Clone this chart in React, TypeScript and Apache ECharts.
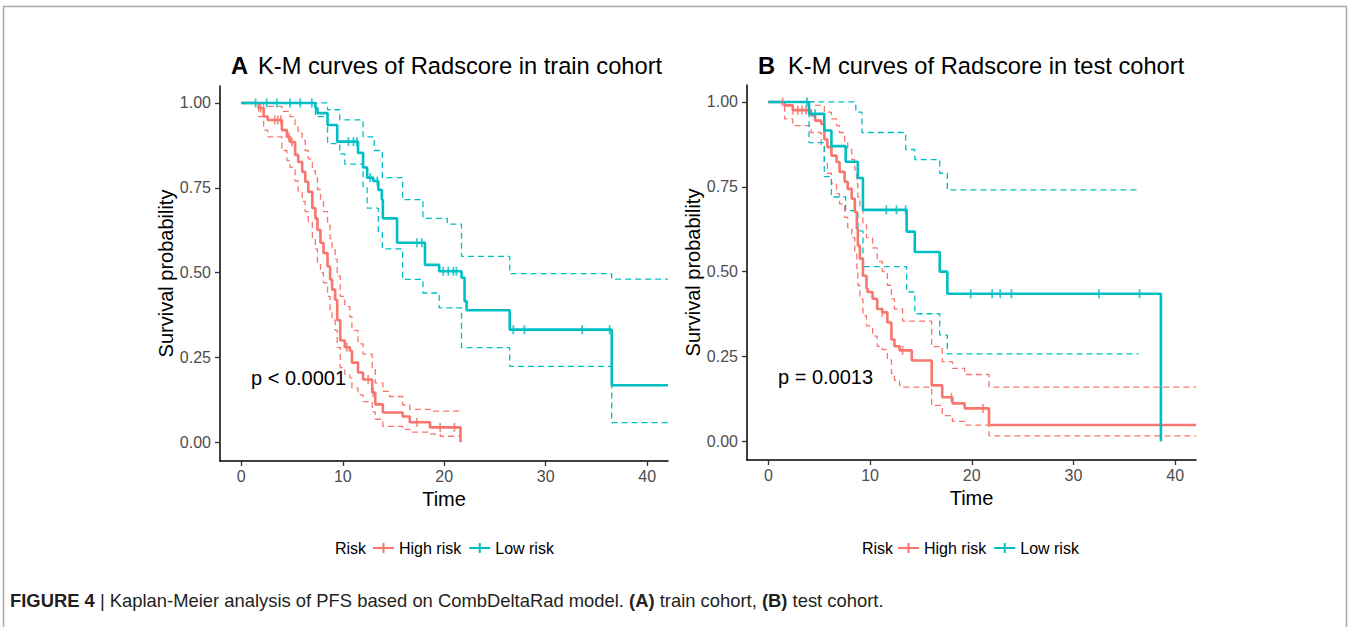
import React, { useEffect, useRef } from "react";
import * as echarts from "echarts";

const RED = "#F8766D";
const TEAL = "#00BFC4";
const FONT = '"Liberation Sans", Arial, Helvetica, sans-serif';

const xTicks = [0, 10, 20, 30, 40];
const yTicks = [0, 0.25, 0.5, 0.75, 1];
const legendNames = ["High risk", "Low risk"];
const panelLetters = ["A", "B"];
const panelTitles = ["K-M curves of Radscore in train cohort", "K-M curves of Radscore in test cohort"];
const pLabels = ["p < 0.0001", "p = 0.0013"];

// ---- train cohort (panel A) ----
const trainHigh = [[0,1],[1.7,0.985],[2.2,0.96],[2.6,0.95],[4.0,0.92],[4.5,0.9],[4.8,0.885],[5.3,0.847],[5.6,0.826],[6.0,0.797],[6.3,0.768],[6.6,0.738],[7.0,0.69],[7.3,0.66],[7.5,0.626],[7.8,0.588],[8.1,0.558],[8.5,0.518],[8.75,0.48],[8.95,0.45],[9.25,0.42],[9.45,0.36],[9.75,0.3],[10.2,0.28],[10.7,0.27],[10.9,0.235],[11.5,0.206],[12.0,0.185],[12.9,0.147],[13.2,0.112],[13.95,0.088],[15.9,0.076],[16.6,0.059],[18.6,0.044],[21.6,0]];
const trainHighUpper = [[0,1],[2.2,0.99],[4.0,0.975],[4.8,0.96],[5.3,0.93],[5.6,0.91],[6.0,0.89],[6.3,0.86],[6.6,0.835],[7.0,0.8],[7.3,0.78],[7.5,0.745],[7.8,0.71],[8.1,0.68],[8.5,0.64],[8.75,0.6],[8.95,0.57],[9.25,0.54],[9.45,0.49],[9.75,0.43],[10.2,0.4],[10.7,0.37],[10.9,0.33],[11.5,0.29],[12.0,0.26],[12.9,0.22],[13.2,0.175],[13.95,0.15],[14.6,0.135],[15.9,0.11],[16.6,0.097],[18.6,0.092],[21.5,0.092]];
const trainHighLower = [[0,1],[1.7,0.96],[2.2,0.92],[2.6,0.9],[4.0,0.86],[4.5,0.83],[4.8,0.81],[5.3,0.77],[5.6,0.74],[6.0,0.71],[6.3,0.68],[6.6,0.65],[7.0,0.6],[7.3,0.57],[7.5,0.53],[7.8,0.5],[8.1,0.47],[8.5,0.43],[8.75,0.39],[8.95,0.36],[9.25,0.33],[9.45,0.28],[9.75,0.22],[10.2,0.2],[10.7,0.19],[10.9,0.16],[11.5,0.14],[12.0,0.12],[12.9,0.09],[13.2,0.068],[13.95,0.047],[15.9,0.038],[16.6,0.03],[18.6,0.024],[19.6,0.018],[21.5,0.018]];
const trainHighCensor = [1.9, 3.3, 3.6, 3.9, 4.7, 5.0, 10.4, 12.5, 13.0, 17.3, 19.6, 21.0];

const trainLow = [[0,1],[7.3,0.985],[7.5,0.97],[8.5,0.935],[9.45,0.886],[11.5,0.853],[12.0,0.81],[12.4,0.78],[13.0,0.77],[13.5,0.744],[13.85,0.715],[13.95,0.66],[15.35,0.588],[18.1,0.523],[19.5,0.504],[21.7,0.485],[22.0,0.416],[22.2,0.389],[26.45,0.332],[36.5,0.168],[42.05,0.168]];
const trainLowUpper = [[0,1],[8.5,0.98],[9.7,0.95],[12.0,0.9],[13.1,0.86],[13.9,0.78],[15.9,0.715],[17.9,0.66],[20.3,0.643],[21.7,0.548],[26.45,0.497],[36.5,0.481],[42.05,0.481]];
const trainLowLower = [[0,1],[7.3,0.96],[8.5,0.88],[9.7,0.85],[10.2,0.82],[12.0,0.75],[12.4,0.69],[13.5,0.62],[13.9,0.57],[15.9,0.48],[17.9,0.44],[19.5,0.396],[21.7,0.279],[26.45,0.224],[36.5,0.058],[42.05,0.058]];
const trainLowCensor = [1.4, 2.5, 3.5, 4.8, 5.8, 6.95, 10.55, 11.05, 11.4, 12.7, 13.4, 17.3, 17.8, 19.9, 20.4, 20.9, 21.2, 26.8, 27.9, 33.6, 36.3];

// ---- test cohort (panel B) ----
const testHigh = [[0,1],[1.6,0.99],[2.4,0.976],[4.2,0.96],[4.6,0.945],[5.2,0.935],[5.5,0.89],[5.8,0.867],[6.2,0.842],[6.7,0.823],[7.0,0.794],[7.5,0.765],[7.8,0.744],[8.2,0.715],[8.5,0.676],[8.7,0.626],[8.8,0.576],[9.0,0.538],[9.3,0.488],[9.65,0.45],[9.75,0.44],[10.25,0.42],[10.7,0.39],[11.2,0.38],[11.7,0.35],[12.1,0.3],[12.4,0.28],[12.9,0.268],[14.1,0.238],[16.06,0.165],[17.1,0.13],[18.1,0.112],[19.3,0.097],[21.7,0.048],[42.05,0.048]];
const testHighUpper = [[0,1],[4.6,0.99],[5.5,0.97],[6.2,0.95],[6.7,0.93],[7.0,0.91],[7.5,0.88],[7.8,0.86],[8.2,0.83],[8.5,0.8],[8.7,0.76],[8.8,0.72],[9.0,0.69],[9.3,0.64],[9.65,0.6],[10.25,0.57],[10.7,0.53],[11.2,0.5],[11.7,0.46],[12.1,0.42],[12.4,0.39],[13.2,0.354],[16.06,0.279],[17.1,0.235],[18.1,0.215],[19.3,0.197],[21.7,0.16],[42.05,0.16]];
const testHighLower = [[0,1],[1.6,0.95],[2.4,0.93],[4.2,0.91],[5.2,0.87],[5.5,0.82],[5.8,0.79],[6.2,0.76],[6.7,0.73],[7.0,0.7],[7.5,0.66],[7.8,0.63],[8.2,0.6],[8.5,0.56],[8.7,0.51],[8.8,0.46],[9.0,0.42],[9.3,0.37],[9.65,0.34],[10.25,0.31],[10.7,0.28],[11.2,0.27],[11.7,0.24],[12.1,0.2],[12.4,0.18],[12.9,0.165],[13.2,0.16],[16.06,0.106],[17.1,0.076],[18.1,0.059],[19.3,0.048],[21.7,0.016],[42.05,0.016]];
const testHighCensor = [1.4, 2.4, 2.9, 3.3, 3.7, 11.2, 13.2, 18.0, 21.1];

const testLow = [[0,1],[4.0,0.965],[5.5,0.916],[6.2,0.87],[7.6,0.824],[8.8,0.776],[9.3,0.682],[13.6,0.618],[14.4,0.558],[16.85,0.5],[17.6,0.435],[38.6,0]];
const testLowUpper = [[0,1],[8.6,0.97],[9.2,0.91],[13.5,0.86],[14.4,0.83],[16.85,0.79],[17.6,0.741],[36.4,0.741]];
const testLowLower = [[0,1],[4.0,0.88],[5.5,0.78],[6.2,0.72],[7.6,0.68],[8.8,0.62],[9.3,0.515],[13.6,0.44],[14.4,0.376],[16.85,0.313],[17.6,0.258],[36.4,0.258]];
const testLowCensor = [3.8, 4.6, 11.6, 12.6, 13.5, 19.9, 22.0, 22.8, 23.9, 32.5, 36.5];

function kmAt(curve: number[][], t: number): number {
  let s = curve[0][1];
  for (const [ti, si] of curve) {
    if (ti <= t) s = si;
    else break;
  }
  return s;
}

function stepLine(name: string, data: number[][], color: string, idx: number, dashed: boolean) {
  return {
    type: "line",
    name,
    data,
    xAxisIndex: idx,
    yAxisIndex: idx,
    step: "end",
    showSymbol: false,
    symbol: "none",
    silent: true,
    z: dashed ? 2 : 3,
    itemStyle: { color },
    lineStyle: { color, width: dashed ? 1.3 : 2.6, type: dashed ? [6, 4] : "solid" },
  };
}

function censors(name: string, curve: number[][], times: number[], color: string, idx: number) {
  return {
    type: "scatter",
    name,
    data: times.map((t) => [t, kmAt(curve, t)]),
    xAxisIndex: idx,
    yAxisIndex: idx,
    symbol: "rect",
    symbolSize: [1.8, 9],
    silent: true,
    z: 4,
    itemStyle: { color },
  };
}

const grids = [
  { left: 220, right: 683, top: 86, bottom: 166 },
  { left: 747, right: 155, top: 85, bottom: 167 },
];

function makeX(idx: number) {
  return {
    gridIndex: idx,
    type: "value",
    min: -2.1,
    max: 42.05,
    name: "Time",
    nameLocation: "middle",
    nameGap: 26,
    nameTextStyle: { fontSize: 20, color: "#000", fontFamily: FONT },
    axisLine: { show: true, onZero: false, lineStyle: { color: "#000", width: 1.5 } },
    axisTick: { show: true, length: 5, customValues: xTicks, lineStyle: { color: "#333", width: 1.3 } },
    axisLabel: { customValues: xTicks, fontSize: 16, color: "#4d4d4d", margin: 7, fontFamily: FONT },
    splitLine: { show: false },
  };
}

function makeY(idx: number) {
  return {
    gridIndex: idx,
    type: "value",
    min: -0.055,
    max: 1.05,
    name: "Survival probability",
    nameLocation: "middle",
    nameGap: 42,
    nameTextStyle: { fontSize: 20, color: "#000", fontFamily: FONT },
    axisLine: { show: true, onZero: false, lineStyle: { color: "#000", width: 1.5 } },
    axisTick: { show: true, length: 5, customValues: yTicks, lineStyle: { color: "#333", width: 1.3 } },
    axisLabel: {
      customValues: yTicks,
      fontSize: 16,
      color: "#4d4d4d",
      margin: 9,
      fontFamily: FONT,
      formatter: (v: number) => v.toFixed(2),
    },
    splitLine: { show: false },
  };
}

const plusIcon = "path://M0,4 H9.5 V0 H11.5 V4 H21 V6 H11.5 V10 H9.5 V6 H0 Z";

function makeLegend(left: number) {
  return {
    data: legendNames.map((n) => ({ name: n, icon: plusIcon })),
    left,
    top: 540,
    padding: 0,
    orient: "horizontal",
    itemWidth: 21,
    itemHeight: 10,
    itemGap: 8,
    selectedMode: false,
    textStyle: { fontSize: 16, color: "#000", fontFamily: FONT },
  };
}

export default function App() {
  const ref = useRef<HTMLDivElement>(null);
  useEffect(() => {
    if (!ref.current) return;
    const chart = echarts.init(ref.current, undefined, { renderer: "svg" });
    const titleX = [[231, 258], [758, 788]];
    const pPos = [[251, 378], [778, 377]];
    const riskX = [335, 862];
    const graphics: any[] = [
      {
        type: "rect",
        silent: true,
        shape: { x: 3.5, y: 6.5, width: 1343, height: 700 },
        style: { fill: "none", stroke: "#aaaaaa", lineWidth: 1.5 },
      },
    ];
    [0, 1].forEach((i) => {
      graphics.push({
        type: "text",
        x: titleX[i][0],
        y: 66,
        style: { text: panelLetters[i], fontSize: 23.7, fontWeight: "bold", fontFamily: FONT, fill: "#000", align: "left", verticalAlign: "middle" },
      });
      graphics.push({
        type: "text",
        x: titleX[i][1],
        y: 66,
        style: { text: panelTitles[i], fontSize: 23.7, fontFamily: FONT, fill: "#000", align: "left", verticalAlign: "middle" },
      });
      graphics.push({
        type: "text",
        x: pPos[i][0],
        y: pPos[i][1],
        style: { text: pLabels[i], fontSize: 20, fontFamily: FONT, fill: "#000", align: "left", verticalAlign: "middle" },
      });
      graphics.push({
        type: "text",
        x: riskX[i],
        y: 548,
        style: { text: "Risk", fontSize: 16, fontFamily: FONT, fill: "#000", align: "left", verticalAlign: "middle" },
      });
    });
    graphics.push({
      type: "text",
      x: 10,
      y: 600,
      style: {
        text: "{b|FIGURE 4} | Kaplan-Meier analysis of PFS based on CombDeltaRad model. {b|(A)} train cohort, {b|(B)} test cohort.",
        fontSize: 18.4,
        fontFamily: FONT,
        fill: "#231f20",
        align: "left",
        verticalAlign: "middle",
        rich: { b: { fontSize: 18.4, fontWeight: "bold", fontFamily: FONT, fill: "#231f20" } },
      },
    });

    const series: any[] = [
      stepLine("High risk upper", trainHighUpper, RED, 0, true),
      stepLine("High risk lower", trainHighLower, RED, 0, true),
      stepLine("Low risk upper", trainLowUpper, TEAL, 0, true),
      stepLine("Low risk lower", trainLowLower, TEAL, 0, true),
      stepLine("High risk", trainHigh, RED, 0, false),
      stepLine("Low risk", trainLow, TEAL, 0, false),
      censors("High risk censored", trainHigh, trainHighCensor, RED, 0),
      censors("Low risk censored", trainLow, trainLowCensor, TEAL, 0),
      stepLine("High risk upper B", testHighUpper, RED, 1, true),
      stepLine("High risk lower B", testHighLower, RED, 1, true),
      stepLine("Low risk upper B", testLowUpper, TEAL, 1, true),
      stepLine("Low risk lower B", testLowLower, TEAL, 1, true),
      stepLine("High risk", testHigh, RED, 1, false),
      stepLine("Low risk", testLow, TEAL, 1, false),
      censors("High risk censored B", testHigh, testHighCensor, RED, 1),
      censors("Low risk censored B", testLow, testLowCensor, TEAL, 1),
    ];

    chart.setOption({
      animation: false,
      backgroundColor: "#ffffff",
      textStyle: { fontFamily: FONT },
      grid: grids,
      xAxis: [makeX(0), makeX(1)],
      yAxis: [makeY(0), makeY(1)],
      legend: [makeLegend(373), makeLegend(898)],
      graphic: graphics,
      series,
    });
    return () => chart.dispose();
  }, []);
  return <div ref={ref} style={{ position: "absolute", left: 0, top: 0, width: 1351, height: 627 }} />;
}
